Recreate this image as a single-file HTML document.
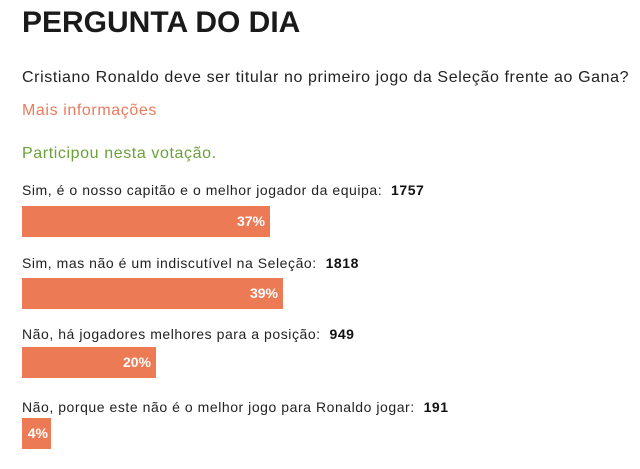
<!DOCTYPE html>
<html><head><meta charset="utf-8"><style>
body{margin:0;width:640px;height:469px;background:#fff;font-family:"Liberation Sans",sans-serif;color:#222;position:relative;overflow:hidden}
.a{position:absolute;left:22px;white-space:nowrap}
h1{position:absolute;left:22px;top:6px;margin:0;font-size:30px;font-weight:bold;color:#1a1a1a;letter-spacing:0}
.q{font-size:16px;letter-spacing:0.6px}
.lab{font-size:14px;letter-spacing:0.55px}
.lab b{color:#111}
.bar{position:absolute;left:22px;height:31px;background:#ec7a55;color:#fff;font-weight:bold;font-size:14px;text-align:right;box-sizing:border-box;padding-right:5px;line-height:31px}
</style></head><body>
<h1>PERGUNTA DO DIA</h1>
<div class="a q" style="top:69px">Cristiano Ronaldo deve ser titular no primeiro jogo da Seleção frente ao Gana?</div>
<div class="a q" style="top:102px;color:#ec7a5c">Mais informações</div>
<div class="a q" style="top:145px;color:#6aa13a">Participou nesta votação.</div>
<div class="a lab" style="top:182px">Sim, é o nosso capitão e o melhor jogador da equipa:&nbsp; <b>1757</b></div>
<div class="bar" style="top:206px;width:248px">37%</div>
<div class="a lab" style="top:255px">Sim, mas não é um indiscutível na Seleção:&nbsp; <b>1818</b></div>
<div class="bar" style="top:278px;width:261px">39%</div>
<div class="a lab" style="top:326px">Não, há jogadores melhores para a posição:&nbsp; <b>949</b></div>
<div class="bar" style="top:347px;width:134px">20%</div>
<div class="a lab" style="top:399px">Não, porque este não é o melhor jogo para Ronaldo jogar:&nbsp; <b>191</b></div>
<div class="bar" style="top:418px;width:29px;padding-right:3px">4%</div>
</body></html>
